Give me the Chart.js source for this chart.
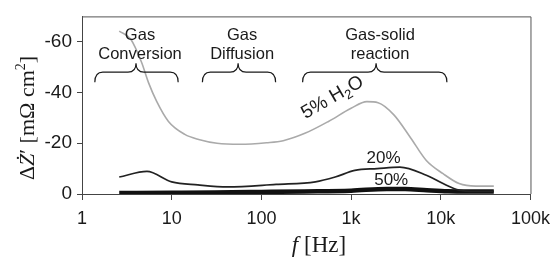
<!DOCTYPE html>
<html>
<head>
<meta charset="utf-8">
<script src="https://cdn.jsdelivr.net/npm/chart.js@4.4.0/dist/chart.umd.min.js"></script>
<style>
  html, body { margin: 0; padding: 0; background: #fff; }
  #wrap { width: 558px; height: 258px; position: relative; }
</style>
</head>
<body>
<div id="wrap"><canvas id="impChart"></canvas></div>
<script>
// --- data ---
const f5 = [2.6, 3.5, 4.6, 5.5, 6.8, 9.2, 14, 20, 32, 58, 114, 175, 310, 560, 1000, 1500, 2000, 3000, 4600, 6900, 10600, 16000, 24500, 39000];
const h2o5 = [-64.2, -61, -52, -44, -36.5, -28.6, -23.5, -21.5, -20, -19.6, -20.2, -21, -24, -28.6, -33.8, -36.4, -36, -31.2, -22.2, -13.2, -8, -4.1, -3.1, -3.1];

const f20 = [2.6, 5.3, 10, 19.6, 42, 146, 400, 665, 1100, 1950, 3500, 6900, 10600, 16000, 24000, 39000];
const h2o20 = [-6.7, -8.9, -4.8, -3.6, -2.8, -3.8, -4.8, -6.7, -9.3, -10, -10.6, -7.4, -4.1, -1.5, -1.0, -1.0];

const f50 = [2.6, 10, 30, 100, 300, 1000, 2500, 4000, 7000, 12000, 20000, 39000];
const h2o50 = [-0.4, -0.5, -0.6, -0.8, -1.0, -1.3, -2.0, -2.0, -1.5, -1.1, -1.0, -1.0];

const xTicks = [1, 10, 100, 1000, 10000, 100000];
const xTickText = ['1', '10', '100', '1k', '10k', '100k'];

// process braces: from, to, tip (Hz), and the two text lines above
const braceFrom = [1.39, 22, 288];
const braceTo = [11.8, 144, 11700];
const braceTip = [4.0, 55, 1900];
const braceText = [['Gas', 'Conversion'], ['Gas', 'Diffusion'], ['Gas-solid', 'reaction']];

const pts = (xs, ys) => xs.map((x, i) => ({ x: x, y: ys[i] }));

const INK = '#1a1a1a';
const SANS = '"Liberation Sans", Arial, sans-serif';
const SERIF = '"Liberation Serif", "Times New Roman", serif';

const overlay = {
    id: 'overlay',
    afterDraw(chart) {
        const c = chart.ctx, a = chart.chartArea;
        const sx = chart.scales.x, sy = chart.scales.y;
        c.save();
        // frame top/right
        c.strokeStyle = '#555';
        c.lineWidth = 1;
        c.beginPath();
        c.moveTo(a.left, a.top + 0.5); c.lineTo(a.right + 0.5, a.top + 0.5); c.lineTo(a.right + 0.5, a.bottom);
        c.stroke();

        // braces
        c.strokeStyle = INK;
        c.lineWidth = 1.2;
        const yEnd = sy.getPixelForValue(-44), yMid = sy.getPixelForValue(-48), yTip = sy.getPixelForValue(-51.5);
        const r = 8;
        braceFrom.forEach((b, i) => {
            const x1 = sx.getPixelForValue(b), x2 = sx.getPixelForValue(braceTo[i]), xm = sx.getPixelForValue(braceTip[i]);
            c.beginPath();
            c.moveTo(x1, yEnd);
            c.quadraticCurveTo(x1, yMid, x1 + r, yMid);
            c.lineTo(xm - r, yMid);
            c.quadraticCurveTo(xm, yMid, xm, yTip);
            c.quadraticCurveTo(xm, yMid, xm + r, yMid);
            c.lineTo(x2 - r, yMid);
            c.quadraticCurveTo(x2, yMid, x2, yEnd);
            c.stroke();
            c.fillStyle = INK;
            c.font = '16.5px ' + SANS;
            c.textAlign = 'center';
            c.textBaseline = 'middle';
            c.fillText(braceText[i][0], xm + 4, sy.getPixelForValue(-62.5));
            c.fillText(braceText[i][1], xm + 4, sy.getPixelForValue(-55));
        });

        // series labels
        c.font = '17px ' + SANS;
        c.textAlign = 'center';
        c.textBaseline = 'middle';
        c.fillText('20%', sx.getPixelForValue(2300), sy.getPixelForValue(-14));
        c.fillText('50%', sx.getPixelForValue(2800), sy.getPixelForValue(-5.3));
        c.save();
        c.translate(sx.getPixelForValue(620), sy.getPixelForValue(-38));
        c.rotate(-30 * Math.PI / 180);
        c.textAlign = 'left';
        c.font = '19px ' + SANS;
        const wA = c.measureText('5% H').width;
        c.font = '13px ' + SANS;
        const wB = c.measureText('2').width;
        c.font = '19px ' + SANS;
        const wC = c.measureText('O').width;
        let w = -(wA + wB + wC) / 2;
        c.fillText('5% H', w, 0);
        w += wA;
        c.font = '13px ' + SANS;
        c.fillText('2', w, 6);
        w += wB;
        c.font = '19px ' + SANS;
        c.fillText('O', w, 0);
        c.restore();

        // x title: f [Hz]
        c.textBaseline = 'alphabetic';
        c.textAlign = 'left';
        c.font = 'italic 23px ' + SERIF;
        const fw = c.measureText('f ').width;
        c.font = '23px ' + SERIF;
        const hw = c.measureText('[Hz]').width;
        let x0 = 319 - (fw + hw) / 2;
        c.font = 'italic 23px ' + SERIF;
        c.fillText('f ', x0, 252);
        c.font = '23px ' + SERIF;
        c.fillText('[Hz]', x0 + fw, 252);

        // y title: ΔŻ′ [mΩ cm²]
        c.save();
        c.translate(34, 118);
        c.rotate(-Math.PI / 2);
        const parts = [
            ['22px ' + SERIF, 'Δ', 0],
            ['italic 22px ' + SERIF, 'Ż', 0],
            ['22px ' + SERIF, '′ [mΩ cm', 0],
            ['14px ' + SERIF, '2', -9],
            ['22px ' + SERIF, ']', 0]
        ];
        let tot = 0;
        parts.forEach(p => { c.font = p[0]; tot += c.measureText(p[1]).width; });
        let px = -tot / 2;
        parts.forEach(p => { c.font = p[0]; c.fillText(p[1], px, p[2]); px += c.measureText(p[1]).width; });
        c.restore();
        c.restore();
    }
};

new Chart(document.getElementById('impChart'), {
    type: 'line',
    data: {
        datasets: [
            { label: '5% H2O', data: pts(f5, h2o5), borderColor: '#aaaaaa', borderWidth: 1.6, pointRadius: 0, cubicInterpolationMode: 'monotone', fill: false },
            { label: '20%', data: pts(f20, h2o20), borderColor: '#222222', borderWidth: 1.7, pointRadius: 0, cubicInterpolationMode: 'monotone', fill: false },
            { label: '50%', data: pts(f50, h2o50), borderColor: '#111111', borderWidth: 4.5, pointRadius: 0, cubicInterpolationMode: 'monotone', fill: false, borderCapStyle: 'butt' }
        ]
    },
    options: {
        responsive: true, maintainAspectRatio: false, animation: false,
        layout: { padding: { top: 12, right: 19, left: 0, bottom: 0 } },
        plugins: { legend: { display: false }, tooltip: { enabled: false } },
        scales: {
            x: {
                type: 'logarithmic', min: 1, max: 100000,
                afterBuildTicks: s => { s.ticks = xTicks.map(v => ({ value: v })); },
                afterFit: s => { s.height = 64; },
                border: { color: '#444', width: 1 },
                grid: { drawOnChartArea: false, drawTicks: true, tickLength: 6, color: '#444' },
                ticks: {
                    autoSkip: false, maxRotation: 0, padding: 8, color: INK,
                    font: { family: SANS, size: 18 },
                    callback: (v) => { const i = xTicks.indexOf(v); return i >= 0 ? xTickText[i] : ''; }
                }
            },
            y: {
                min: -70, max: 0, reverse: true,
                afterFit: s => { s.width = 82; },
                border: { color: '#444', width: 1 },
                grid: { drawOnChartArea: false, drawTicks: true, tickLength: 5, color: '#444' },
                ticks: {
                    stepSize: 10, padding: 5, color: INK,
                    font: { family: SANS, size: 19 },
                    callback: v => (v % 20 === 0 && v !== -70 ? String(v) : '')
                }
            }
        }
    },
    plugins: [overlay]
});
</script>
</body>
</html>
